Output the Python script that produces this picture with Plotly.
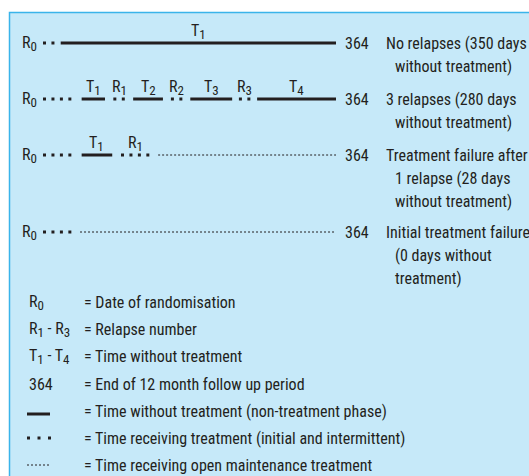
import numpy as np
import plotly.graph_objects as go

W, H = 529, 476

# ---------------- data (days from randomisation, as drawn schematically) ----------------
END_DAY = 364
row1_phases = [("treat", 0, 22), ("free", 22, 364)]
row2_phases = [("treat", 0, 48), ("free", 48, 77), ("treat", 77, 112), ("free", 112, 149),
               ("treat", 149, 183), ("free", 183, 235), ("treat", 235, 266), ("free", 266, 364)]
row3_phases = [("treat", 0, 48), ("free", 48, 86), ("treat", 86, 143), ("maint", 143, 364)]
row4_phases = [("treat", 0, 46), ("maint", 46, 364)]
rows = [row1_phases, row2_phases, row3_phases, row4_phases]

row1_desc = ["No relapses (350 days", "without treatment)"]
row2_desc = ["3 relapses (280 days", "without treatment)"]
row3_desc = ["Treatment failure after", "1 relapse (28 days", "without treatment)"]
row4_desc = ["Initial treatment failure", "(0 days without", "treatment)"]
descs = [row1_desc, row2_desc, row3_desc, row4_desc]

legend_keys = ["R|0", "R|1 - R|3", "T|1 - T|4", "364", "free", "treat", "maint"]
legend_texts = ["= Date of randomisation", "= Relapse number", "= Time without treatment",
                "= End of 12 month follow up period",
                "= Time without treatment (non-treatment phase)",
                "= Time receiving treatment (initial and intermittent)",
                "= Time receiving open maintenance treatment"]

# ---------------- layout constants ----------------
X0_PX, X1_PX = 43, 336            # pixel positions of day 0 and day 364
PXD = (X1_PX - X0_PX) / END_DAY   # pixels per day
def px2day(px):
    return (px - X0_PX) / PXD

INK = "#231f20"
FONT = "Roboto Condensed, Liberation Sans Narrow, Arial Narrow, sans-serif"
FS = 16
SUB_FS = 13
ROW_Y = [43, 99, 155, 232]
LINE_GAP = 23
LEG_Y = [302, 329, 356, 384, 411, 438, 465]
STEP = 8.45 / PXD   # dot spacing in days


def sub(letter, idx):
    return f"{letter}<sub><span style='font-size:{SUB_FS}px'>{idx}</span></sub>"


def fmt_key(key):
    parts = []
    for tok in key.split(" "):
        if "|" in tok:
            l, i = tok.split("|")
            parts.append(sub(l, i))
        else:
            parts.append(tok)
    return " ".join(parts)


def treat_dots(a, b, first):
    if first:
        pts = []
        c = a + 1.5 / PXD
        while c <= b - 5.5 / PXD:
            pts.append(c)
            c += STEP
        return np.array(pts)
    L = b - a
    n = max(1, int((L - 15 / PXD) / STEP) + 1)
    mid = (a + b) / 2
    return mid + (np.arange(n) - (n - 1) / 2) * STEP


fig = go.Figure()

solid_x, solid_y, maint_x, maint_y, dot_x, dot_y = [], [], [], [], [], []
annotations = []

for r, (phases, y) in enumerate(zip(rows, ROW_Y)):
    t_count, r_count = 0, 0
    for i, (kind, a, b) in enumerate(phases):
        if kind == "free":
            solid_x += [a, b, None]; solid_y += [y, y, None]
            t_count += 1
            annotations.append(dict(x=(a + b) / 2, y=y - 12, xref="x", yref="y",
                                    text=sub("T", t_count), xanchor="center", yanchor="middle"))
        elif kind == "maint":
            maint_x += [a, b, None]; maint_y += [y, y, None]
        else:
            pts = treat_dots(a, b, i == 0)
            dot_x += list(pts); dot_y += [y] * len(pts)
            if i > 0:
                r_count += 1
                annotations.append(dict(x=(a + b) / 2, y=y - 12, xref="x", yref="y",
                                        text=sub("R", r_count), xanchor="center", yanchor="middle"))
    annotations.append(dict(x=20 / W, y=y, xref="paper", yref="y", text=sub("R", 0),
                            xanchor="left", yanchor="middle"))
    annotations.append(dict(x=343 / W, y=y, xref="paper", yref="y", text=str(END_DAY),
                            xanchor="left", yanchor="middle"))
    for j, line in enumerate(descs[r]):
        annotations.append(dict(x=(384 if j == 0 else 393) / W, y=y + j * LINE_GAP,
                                xref="paper", yref="y", text=line,
                                xanchor="left", yanchor="middle"))

# legend
for key, txt, y in zip(legend_keys, legend_texts, LEG_Y):
    if key == "free":
        solid_x += [px2day(27), px2day(50), None]; solid_y += [y + 3, y + 3, None]
    elif key == "maint":
        maint_x += [px2day(27), px2day(50), None]; maint_y += [y, y, None]
    elif key == "treat":
        pts = px2day(np.linspace(28.5, 49.5, 3))
        dot_x += list(pts); dot_y += [y] * 3
    else:
        annotations.append(dict(x=27 / W, y=y, xref="paper", yref="y", text=fmt_key(key),
                                xanchor="left", yanchor="middle"))
    annotations.append(dict(x=82 / W, y=y, xref="paper", yref="y", text=txt,
                            xanchor="left", yanchor="middle"))

fig.add_trace(go.Scatter(x=solid_x, y=solid_y, mode="lines",
                         line=dict(color=INK, width=3), hoverinfo="skip"))
fig.add_trace(go.Scatter(x=maint_x, y=maint_y, mode="lines",
                         line=dict(color=INK, width=1, dash="2px,2px"), hoverinfo="skip"))
fig.add_trace(go.Scatter(x=dot_x, y=dot_y, mode="markers",
                         marker=dict(symbol="square", size=3, color=INK, line=dict(width=0)),
                         hoverinfo="skip"))

for a in annotations:
    a.update(showarrow=False, font=dict(family=FONT, size=FS, color=INK))

fig.update_layout(
    width=W, height=H, margin=dict(l=0, r=0, t=0, b=0),
    paper_bgcolor="white", plot_bgcolor="rgba(0,0,0,0)", showlegend=False,
    xaxis=dict(range=[px2day(0), px2day(W)], visible=False, fixedrange=True),
    yaxis=dict(range=[H, 0], visible=False, fixedrange=True),
    shapes=[dict(type="rect", xref="paper", yref="paper", layer="below",
                 x0=9.5 / W, x1=1.05, y0=-0.05, y1=1 - 12.5 / H,
                 fillcolor="#c6e9f9", line=dict(color="#3ab4ea", width=1.5))],
    annotations=annotations,
)

fig.write_html("out.html", config={"displayModeBar": False},
               post_script="document.body.style.margin='0';document.body.style.overflow='hidden';")
